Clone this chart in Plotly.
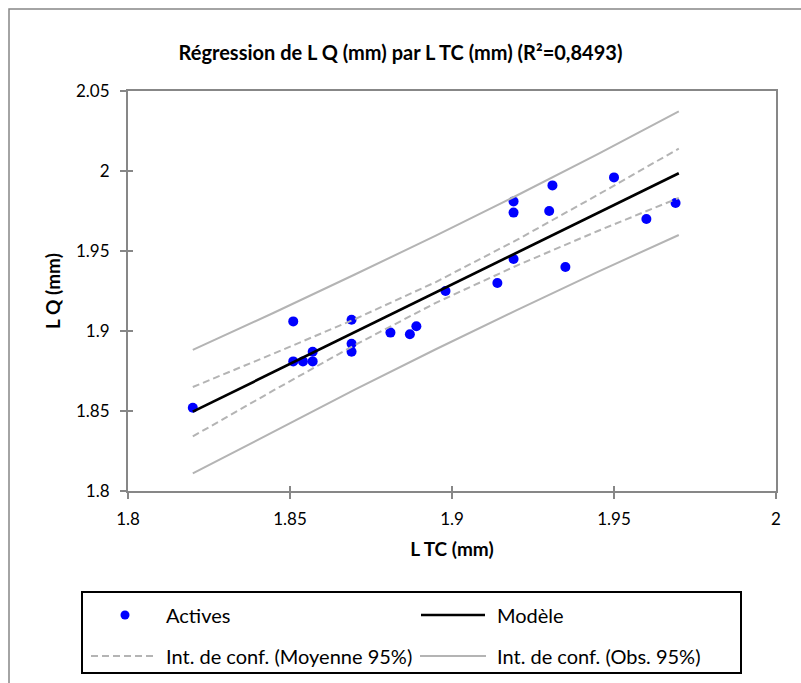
import plotly.graph_objects as go

# Observations (L TC, L Q)
x_obs = [1.820, 1.851, 1.851, 1.854, 1.857, 1.857, 1.869, 1.869, 1.869, 1.881, 1.887, 1.889,
         1.898, 1.914, 1.919, 1.919, 1.919, 1.930, 1.931, 1.935, 1.950, 1.960, 1.969]
y_obs = [1.852, 1.906, 1.881, 1.881, 1.881, 1.887, 1.907, 1.892, 1.887, 1.899, 1.898, 1.903,
         1.925, 1.930, 1.945, 1.974, 1.981, 1.975, 1.991, 1.940, 1.996, 1.970, 1.980]

# Model and confidence bands read at these x positions
x_grid = [1.820, 1.845, 1.870, 1.895, 1.920, 1.945, 1.970]
y_model = [1.8496, 1.8744, 1.8993, 1.9241, 1.9489, 1.9738, 1.9986]
mean_upper = [1.8650, 1.8859, 1.9074, 1.9306, 1.9569, 1.9851, 2.0140]
mean_lower = [1.8341, 1.8630, 1.8912, 1.9176, 1.9409, 1.9625, 1.9832]
obs_upper = [1.8882, 1.9114, 1.9353, 1.9596, 1.9847, 2.0106, 2.0372]
obs_lower = [1.8110, 1.8374, 1.8633, 1.8886, 1.9131, 1.9370, 1.9600]

x_ticks = [1.8, 1.85, 1.9, 1.95, 2.0]
x_tick_labels = ["1.8", "1.85", "1.9", "1.95", "2"]
y_ticks = [1.8, 1.85, 1.9, 1.95, 2.0, 2.05]
y_tick_labels = ["1.8", "1.85", "1.9", "1.95", "2", "2.05"]

legend_labels = ["Actives", "Modèle", "Int. de conf. (Moyenne 95%)", "Int. de conf. (Obs. 95%)"]

FONT = "Lato"
band_color = "#B4B4B4"
axis_color = "#878787"
point_color = "#0000FF"
DASH = "7px,4px"

fig = go.Figure()
fig.add_trace(go.Scatter(x=x_obs, y=y_obs, mode="markers", name=legend_labels[0],
                         marker=dict(color=point_color, size=10)))
fig.add_trace(go.Scatter(x=x_grid, y=y_model, mode="lines", name=legend_labels[1],
                         line=dict(color="black", width=2.7)))
fig.add_trace(go.Scatter(x=x_grid, y=mean_upper, mode="lines", name=legend_labels[2],
                         line=dict(color=band_color, width=2, dash=DASH)))
fig.add_trace(go.Scatter(x=x_grid, y=mean_lower, mode="lines", name=legend_labels[2],
                         line=dict(color=band_color, width=2, dash=DASH)))
fig.add_trace(go.Scatter(x=x_grid, y=obs_upper, mode="lines", name=legend_labels[3],
                         line=dict(color=band_color, width=2)))
fig.add_trace(go.Scatter(x=x_grid, y=obs_lower, mode="lines", name=legend_labels[3],
                         line=dict(color=band_color, width=2)))
# empty helper trace so the overlay axes (inner tick halves) are drawn
fig.add_trace(go.Scatter(x=[], y=[], xaxis="x2", yaxis="y2", hoverinfo="skip",
                         showlegend=False))

L, R, T, B = 128, 25, 91, 192
W, H = 801, 683
pw, ph = W - L - R, H - T - B

def px_x(p):
    return (p - L) / pw

def px_y(p):
    return (H - B - p) / ph

shapes = [dict(type="rect", xref="paper", yref="paper",
               x0=px_x(9), x1=px_x(805), y0=px_y(690), y1=px_y(9),
               line=dict(color=axis_color, width=1.5), layer="below")]
annotations = []

# Legend box drawn in page pixels
shapes.append(dict(type="rect", xref="paper", yref="paper",
                   x0=px_x(82), x1=px_x(741), y0=px_y(673), y1=px_y(592),
                   line=dict(color="black", width=2), fillcolor="white"))
row1, row2 = 615, 656
r = 4.5
shapes.append(dict(type="circle", xref="paper", yref="paper",
                   x0=px_x(125 - r), x1=px_x(125 + r), y0=px_y(row1 + r), y1=px_y(row1 - r),
                   line=dict(color=point_color, width=0), fillcolor=point_color))
shapes.append(dict(type="line", xref="paper", yref="paper",
                   x0=px_x(421), x1=px_x(485), y0=px_y(row1), y1=px_y(row1),
                   line=dict(color="black", width=2.7)))
shapes.append(dict(type="line", xref="paper", yref="paper",
                   x0=px_x(91), x1=px_x(157), y0=px_y(row2), y1=px_y(row2),
                   line=dict(color=band_color, width=2, dash=DASH)))
shapes.append(dict(type="line", xref="paper", yref="paper",
                   x0=px_x(420), x1=px_x(486), y0=px_y(row2), y1=px_y(row2),
                   line=dict(color=band_color, width=2)))
for text, xp, yp in [(legend_labels[0], 164, row1), (legend_labels[1], 495, row1),
                     (legend_labels[2], 164, row2), (legend_labels[3], 495, row2)]:
    annotations.append(dict(text=text, xref="paper", yref="paper", x=px_x(xp), y=px_y(yp),
                            xanchor="left", yanchor="middle", showarrow=False,
                            font=dict(size=20, family=FONT, color="black")))

tick_common = dict(ticklen=6, tickwidth=1.5, tickcolor=axis_color)

fig.update_layout(
    width=W, height=H,
    margin=dict(l=L, r=R, t=T, b=B, pad=0),
    paper_bgcolor="white", plot_bgcolor="white",
    font=dict(family=FONT, size=16, color="black"),
    title=dict(text="<b>Régression de L Q (mm) par L TC (mm) (R²=0,8493)</b>",
               x=0.5, xanchor="center", xref="container", y=1 - 53 / H, yanchor="middle",
               yref="container", font=dict(size=20, family=FONT)),
    showlegend=False,
    xaxis=dict(range=[1.8, 2.0], tickvals=x_ticks, ticktext=x_tick_labels,
               showgrid=False, zeroline=False, showline=True, linecolor=axis_color, linewidth=2,
               mirror=True, ticks="outside", **tick_common,
               tickfont=dict(size=17), ticklabelstandoff=6,
               title=dict(text="<b>L TC (mm)</b>", font=dict(size=19), standoff=14)),
    yaxis=dict(range=[1.8, 2.05], tickvals=y_ticks, ticktext=y_tick_labels,
               showgrid=False, zeroline=False, showline=True, linecolor=axis_color, linewidth=2,
               mirror=True, ticks="outside", **tick_common,
               tickfont=dict(size=17), ticklabelstandoff=7,
               title=dict(text="<b>L Q (mm)</b>", font=dict(size=19), standoff=10)),
    # inner halves of the crossing tick marks
    xaxis2=dict(range=[1.8, 2.0], tickvals=x_ticks, overlaying="x", anchor="y2", side="bottom",
                showgrid=False, zeroline=False, showline=False, showticklabels=False,
                ticks="inside", ticklen=5, tickwidth=1.5, tickcolor=axis_color),
    yaxis2=dict(range=[1.8, 2.05], tickvals=y_ticks, overlaying="y", anchor="x2", side="left",
                showgrid=False, zeroline=False, showline=False, showticklabels=False,
                ticks="inside", ticklen=5, tickwidth=1.5, tickcolor=axis_color),
    shapes=shapes,
    annotations=annotations,
)

fig.write_html("out.html", config={"displayModeBar": False},
               post_script="document.body.style.margin='0';")
